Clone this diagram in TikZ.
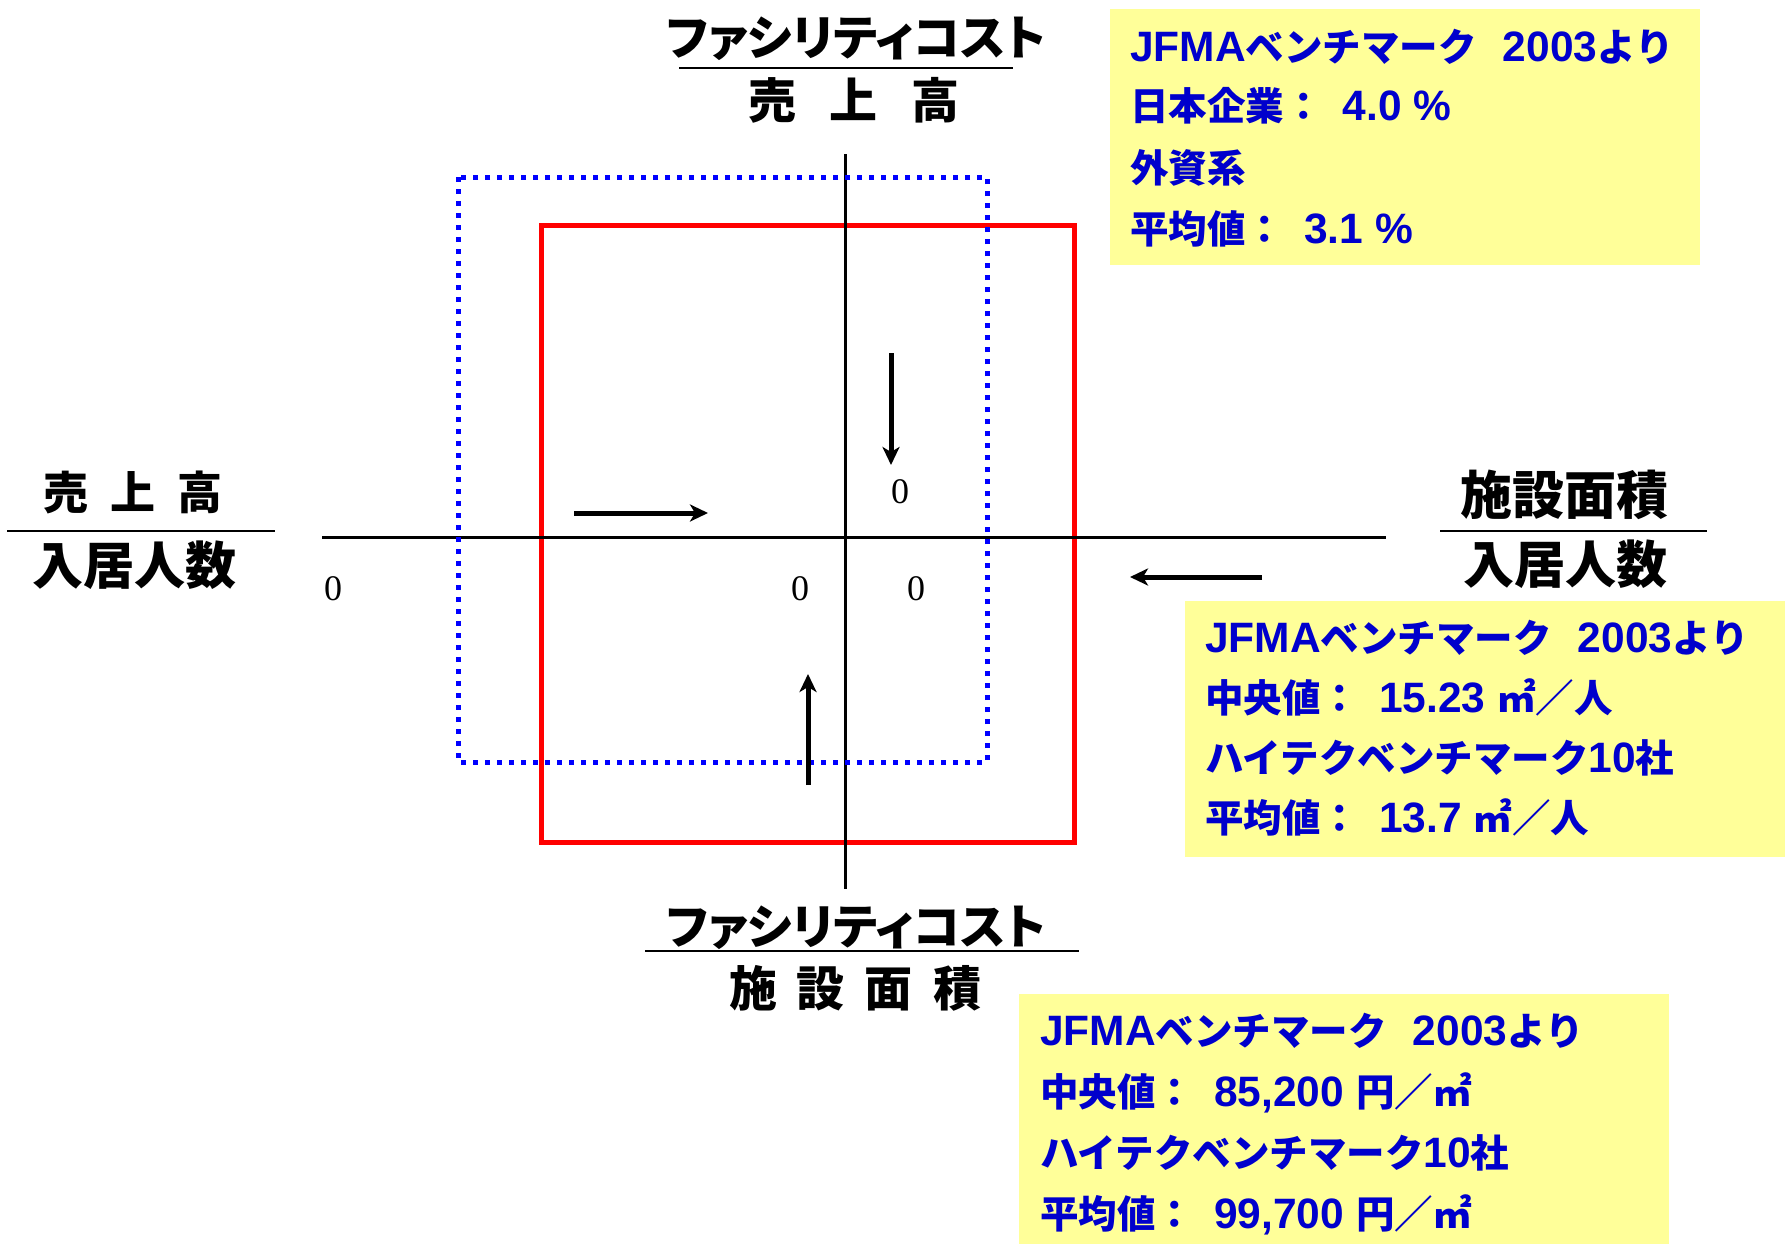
\documentclass[tikz,border=0pt]{standalone}
\usepackage{fontspec}
\setmainfont{Liberation Sans}
\newfontfamily\jpf{Noto Sans CJK JP}
\newfontfamily\jpp{Noto Sans CJK JP}[RawFeature=+palt]
\newfontfamily\serf{Liberation Serif}
\usetikzlibrary{arrows.meta}
\definecolor{txtblue}{RGB}{0,0,204}
\definecolor{boxyellow}{RGB}{255,255,153}
\newcommand\lb[1]{{\fontsize{42.5}{48}\selectfont\bfseries #1}}
\newcommand\jb[1]{{\jpf\fontsize{38.5}{48}\selectfont\bfseries #1}}
\newcommand\sepc{\jb{：}\hspace{20pt}}
\begin{document}
\begin{tikzpicture}[x=1pt,y=-1pt,
  bt/.style={text=txtblue, inner sep=0pt, anchor=base west},
  lbl/.style={inner sep=0pt, anchor=base},
  zero/.style={inner sep=0pt, font=\serf\fontsize{36}{40}\selectfont},
  arr/.style={line width=5pt, -{Stealth[length=18pt,width=17pt,inset=5pt]}},
  axis/.style={line width=3pt, black},
  rule/.style={line width=2pt, black},
  ybox/.style={fill=boxyellow, draw=none}]
\useasboundingbox (0,0) rectangle (1785,1244);
% yellow boxes
\fill[boxyellow] (1110,9) rectangle (1700,265);
\fill[boxyellow] (1185,601) rectangle (1785,857);
\fill[boxyellow] (1019,994) rectangle (1669,1244);
% rectangles
\draw[red, line width=5pt] (541,225) rectangle (1074,842);
% axes
\coordinate (vt) at (845,154); \coordinate (vb) at (845,889);
\coordinate (hl) at (322,537); \coordinate (hr) at (1386,537);
\draw[axis] (vt) -- (vb);
\draw[axis] (hl) -- (hr);
\draw[blue, line width=5pt, dash pattern=on 5pt off 7pt] (458,177) rectangle (987,762);
% arrows
\coordinate (ra1) at (574,513); \coordinate (ra2) at (708,513);
\coordinate (da1) at (891,353); \coordinate (da2) at (891,465);
\coordinate (ua1) at (808,785); \coordinate (ua2) at (808,674);
\coordinate (la1) at (1262,577); \coordinate (la2) at (1130,577);
\draw[arr] (ra1) -- (ra2);
\draw[arr] (da1) -- (da2);
\draw[arr] (ua1) -- (ua2);
\draw[arr] (la1) -- (la2);
% zeros
\node[zero] (z1) at (900,492) {0};
\node[zero] (z2) at (333,589) {0};
\node[zero] (z3) at (800,589) {0};
\node[zero] (z4) at (916,589) {0};
% top label
\node[lbl, font=\jpp\bfseries\fontsize{48}{50}\selectfont] (tn) at (856,56) {ファシリティコスト};
\coordinate (tl1) at (679,68); \coordinate (tl2) at (1013,68);
\draw[rule] (tl1) -- (tl2);
\node[lbl, font=\jpf\bfseries\fontsize{48}{50}\selectfont] (td) at (854,119) {売\hspace{34pt}上\hspace{34pt}高};
% bottom label
\node[lbl, font=\jpp\bfseries\fontsize{48}{50}\selectfont] (bn) at (856,944) {ファシリティコスト};
\coordinate (bl1) at (645,951); \coordinate (bl2) at (1079,951);
\draw[rule] (bl1) -- (bl2);
\node[lbl, font=\jpf\bfseries\fontsize{48}{50}\selectfont] (bd) at (855,1006) {施\hspace{20pt}設\hspace{20pt}面\hspace{20pt}積};
% left label
\node[lbl, font=\jpf\bfseries\fontsize{45}{50}\selectfont] (ln) at (133,509) {売\hspace{22pt}上\hspace{22pt}高};
\coordinate (ll1) at (7,531); \coordinate (ll2) at (275,531);
\draw[rule] (ll1) -- (ll2);
\node[lbl, font=\jpf\bfseries\fontsize{51}{55}\selectfont] (ld) at (134,584) {入居人数};
% right label
\node[lbl, font=\jpf\bfseries\fontsize{52}{55}\selectfont] (rn) at (1564,514) {施設面積};
\coordinate (rl1) at (1440,531); \coordinate (rl2) at (1707,531);
\draw[rule] (rl1) -- (rl2);
\node[lbl, font=\jpf\bfseries\fontsize{51}{55}\selectfont] (rd) at (1565,583) {入居人数};
% top-right box text
\node[bt] (a1) at (1130,62) {\lb{JFMA}\jb{ベンチマーク}\hspace{26pt}\lb{2003}\jb{より}};
\node[bt] (a2) at (1130,121) {\jb{日本企業}\sepc\lb{4.0 \%}};
\node[bt] (a3) at (1130,182) {\jb{外資系}};
\node[bt] (a4) at (1130,243) {\jb{平均値}\sepc\lb{3.1 \%}};
% middle-right box text
\node[bt] (b1) at (1205,652) {\lb{JFMA}\jb{ベンチマーク}\hspace{26pt}\lb{2003}\jb{より}};
\node[bt] (b2) at (1205,712) {\jb{中央値}\sepc\lb{15.23 }\jb{㎡／人}};
\node[bt] (b3) at (1205,772) {\jb{ハイテクベンチマーク}\lb{10}\jb{社}};
\node[bt] (b4) at (1205,832) {\jb{平均値}\sepc\lb{13.7 }\jb{㎡／人}};
% bottom box text
\node[bt] (c1) at (1040,1045) {\lb{JFMA}\jb{ベンチマーク}\hspace{26pt}\lb{2003}\jb{より}};
\node[bt] (c2) at (1040,1106) {\jb{中央値}\sepc\lb{85,200 }\jb{円／㎡}};
\node[bt] (c3) at (1040,1167) {\jb{ハイテクベンチマーク}\lb{10}\jb{社}};
\node[bt] (c4) at (1040,1228) {\jb{平均値}\sepc\lb{99,700 }\jb{円／㎡}};
\end{tikzpicture}
\end{document}
